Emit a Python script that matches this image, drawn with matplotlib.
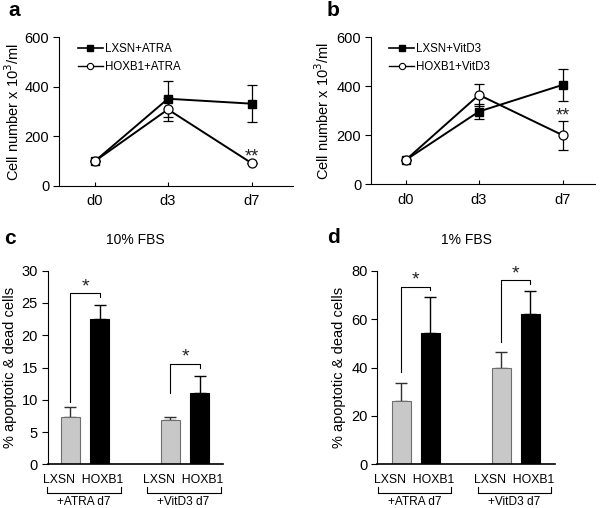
import numpy as np
import matplotlib
matplotlib.use("Agg")
import matplotlib.pyplot as plt
from matplotlib.lines import Line2D

plt.rcParams['font.family'] = ['Liberation Sans', 'DejaVu Sans']

# --- data (a, b): cell number x 10^3/ml ---
days = ['d0', 'd3', 'd7']
lxsn_atra = [100, 352, 332]
lxsn_atra_err = [0, 73, 75]
hoxb1_atra = [100, 309, 91]
hoxb1_atra_err = [0, 47, 0]

lxsn_vitd3 = [100, 297, 406]
lxsn_vitd3_err = [0, 30, 65]
hoxb1_vitd3 = [100, 365, 200]
hoxb1_vitd3_err = [0, 46, 58]

# --- data (c, d): % apoptotic & dead cells ---
groups = ['+ATRA d7', '+VitD3 d7']
fbs10_lxsn = [7.3, 6.8]
fbs10_lxsn_err = [1.65, 0.5]
fbs10_hoxb1 = [22.5, 11.05]
fbs10_hoxb1_err = [2.2, 2.65]

fbs1_lxsn = [26.2, 39.8]
fbs1_lxsn_err = [7.5, 6.5]
fbs1_hoxb1 = [54.1, 62.1]
fbs1_hoxb1_err = [15.2, 9.6]

fig = plt.figure(figsize=(6, 5.08), dpi=100)


def line_panel(rect, xlim, l_vals, l_err, h_vals, h_err, l_lab, h_lab, star_y, lpad):
    ax = fig.add_axes(rect)
    xp = np.array([0, 1, 2.15])
    ax.errorbar(xp, l_vals, yerr=l_err, color='black', lw=1.4, marker='s',
                ms=6, mfc='black', mec='black', capsize=3.5, elinewidth=0.9,
                capthick=0.9, zorder=3)
    ax.errorbar(xp, h_vals, yerr=h_err, color='black', lw=1.4, marker='o',
                ms=6.5, mfc='white', mec='black', mew=0.9, capsize=3.5,
                elinewidth=0.9, capthick=0.9, zorder=4)
    ax.set_ylim(0, 600)
    ax.set_xlim(*xlim)
    ax.set_yticks([0, 200, 400, 600])
    ax.set_xticks(xp)
    ax.set_xticklabels(days)
    ax.spines['top'].set_visible(False)
    ax.spines['right'].set_visible(False)
    ax.tick_params(axis='y', direction='out', length=4, labelsize=10.5, pad=3)
    ax.tick_params(axis='x', direction='in', length=3, labelsize=10.5, pad=6)
    ax.set_ylabel('Cell number x 10$^{3}$/ml', fontsize=10.5, labelpad=lpad)
    ax.text(xp[2], star_y, '**', ha='center', va='center', fontsize=13,
            color='#222222')
    handles = [
        Line2D([], [], color='black', lw=1.2, marker='s', ms=4.5, mfc='black'),
        Line2D([], [], color='black', lw=1.0, marker='o', ms=4.5, mfc='white',
               mew=0.8),
    ]
    ax.legend(handles, [l_lab, h_lab], loc='upper left', bbox_to_anchor=(0.06, 0.99),
              frameon=False, fontsize=8.3, handlelength=2.2, handletextpad=0.15,
              labelspacing=0.5, borderaxespad=0)
    return ax


line_panel([0.0983, 0.6339, 0.39, 0.2927], (-0.49, 2.71),
           lxsn_atra, lxsn_atra_err, hoxb1_atra, hoxb1_atra_err,
           'LXSN+ATRA', 'HOXB1+ATRA', 118, 2)
line_panel([0.6183, 0.6372, 0.3733, 0.2894], (-0.48, 2.59),
           lxsn_vitd3, lxsn_vitd3_err, hoxb1_vitd3, hoxb1_vitd3_err,
           'LXSN+VitD3', 'HOXB1+VitD3', 280, 3)


def bar_panel(rect, xlim, ymax, yticks, l_vals, l_err, h_vals, h_err, gap,
              brackets, title, lpad):
    ax = fig.add_axes(rect)
    pos_l = np.array([0, gap])
    pos_h = pos_l + 1
    w = 0.66
    ax.bar(pos_l, l_vals, w, color='#c8c8c8', edgecolor='#6e6e6e', lw=0.8,
           zorder=2)
    ax.bar(pos_h, h_vals, w, color='black', edgecolor='black', lw=0.8, zorder=2)
    ax.errorbar(pos_l, l_vals, yerr=[np.zeros(2), l_err], fmt='none',
                ecolor='#303030', elinewidth=1.0, capsize=4, capthick=1.0, zorder=1)
    ax.errorbar(pos_h, h_vals, yerr=[np.zeros(2), h_err], fmt='none',
                ecolor='black', elinewidth=1.0, capsize=4, capthick=1.0, zorder=1)
    ax.set_xlim(*xlim)
    ax.set_ylim(0, ymax)
    ax.set_yticks(yticks)
    ax.set_xticks([])
    ax.spines['top'].set_visible(False)
    ax.spines['right'].set_visible(False)
    ax.spines['bottom'].set_linewidth(1.2)
    ax.tick_params(axis='y', direction='out', length=4, labelsize=10.5, pad=3)
    ax.set_ylabel('% apoptotic & dead cells', fontsize=10.5, labelpad=lpad)
    ax.set_title(title, fontsize=10, pad=19)
    # significance brackets
    for i, (ylow, ytop, yright) in enumerate(brackets):
        xl, xr = pos_l[i], pos_h[i]
        ax.plot([xl, xl, xr, xr], [ylow, ytop, ytop, yright], color='black',
                lw=0.8, clip_on=False)
        ax.text((xl + xr) / 2, ytop - ymax * 0.01, '*', ha='center',
                va='bottom', fontsize=14, color='#222222', clip_on=False)
    # category labels and group brackets
    trans = ax.get_xaxis_transform()
    for i, g in enumerate(groups):
        c = (pos_l[i] + pos_h[i]) / 2
        ax.text(c - 0.05, -0.05, 'LXSN  HOXB1', transform=trans, ha='center',
                va='top', fontsize=8.8)
        ax.plot([c - 1.3, c - 1.3, c + 1.22, c + 1.22], [-0.115, -0.148, -0.148, -0.115],
                transform=trans, color='black', lw=0.8, clip_on=False)
        ax.text(c - 0.05, -0.162, g, transform=trans, ha='center', va='top',
                fontsize=8.6)
    return ax


bar_panel([0.0795, 0.0860, 0.2917, 0.3811], (-0.77, 5.18), 30, [0, 5, 10, 15, 20, 25, 30],
          fbs10_lxsn, fbs10_lxsn_err, fbs10_hoxb1, fbs10_hoxb1_err, 3.4,
          [(9.7, 26.5, 25.9), (11.0, 15.6, 15.0)], '10% FBS', 3)
bar_panel([0.6288, 0.0860, 0.2962, 0.3811], (-0.83, 5.3), 80, [0, 20, 40, 60, 80],
          fbs1_lxsn, fbs1_lxsn_err, fbs1_hoxb1, fbs1_hoxb1_err, 3.45,
          [(38.3, 73.4, 72.0), (50.6, 76.1, 74.7)], '1% FBS', 4)

for lab, x, y in [('a', 14, 10), ('b', 333, 10), ('c', 10, 239), ('d', 334, 237)]:
    fig.text(x / 600, 1 - y / 508, lab, fontsize=15, fontweight='bold',
             ha='center', va='center')

fig.savefig('out.png', dpi=100)
